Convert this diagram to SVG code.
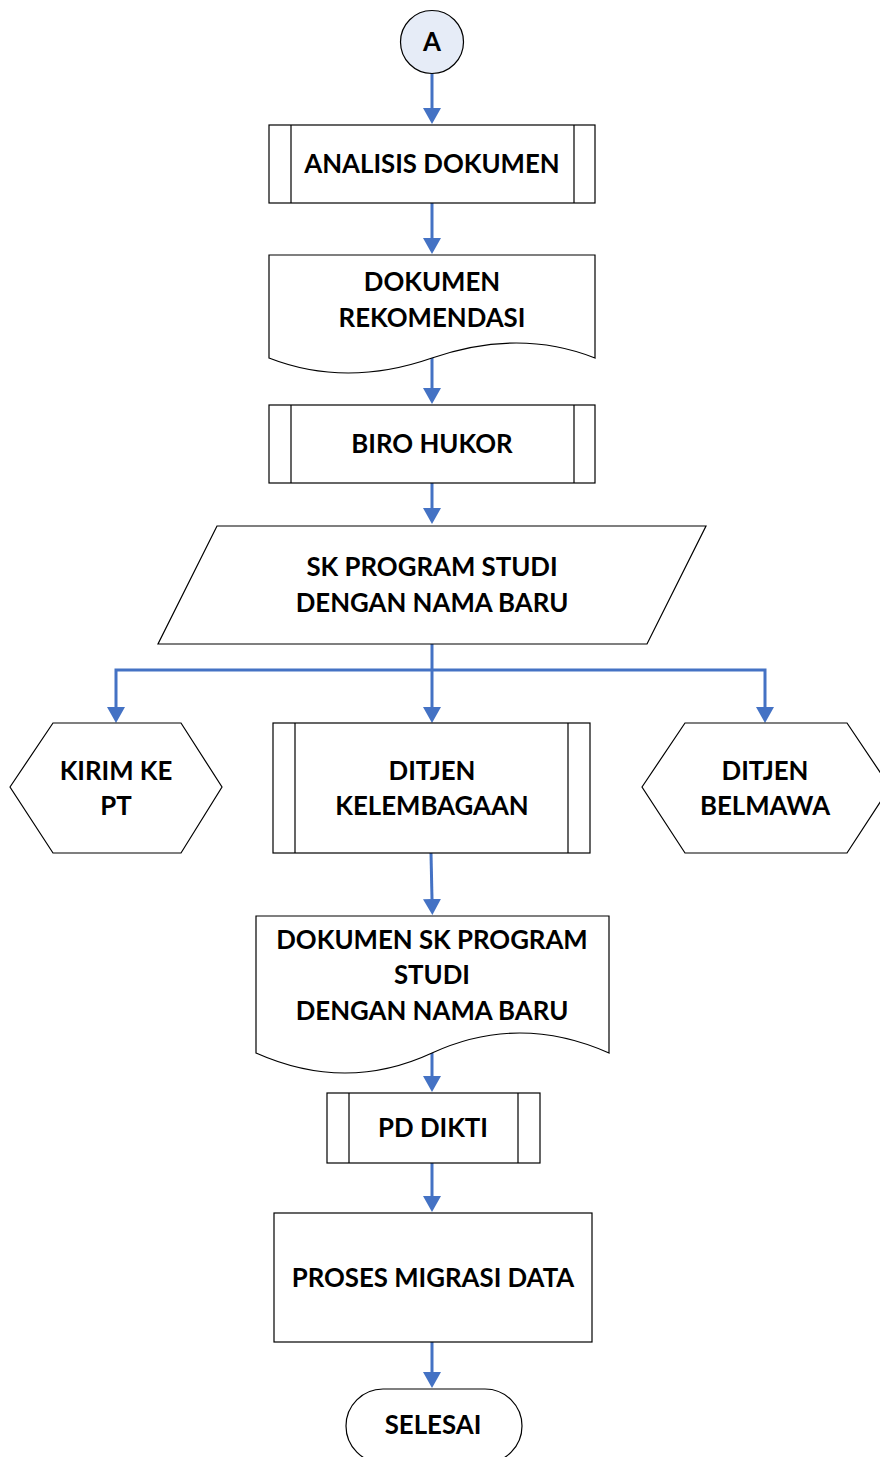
<svg xmlns="http://www.w3.org/2000/svg" width="880" height="1457" viewBox="0 0 880 1457">
<defs>
<style>
.s{fill:#fff;stroke:#000;stroke-width:1.2}
.t{font-family:Lato,"Liberation Sans",sans-serif;font-weight:bold;font-size:25.8px;fill:#000;text-anchor:middle}
.c{fill:none;stroke:#4472C4;stroke-width:3}
</style>
<marker id="ah" viewBox="0 0 16 18" refX="0" refY="9" markerWidth="16" markerHeight="18" markerUnits="userSpaceOnUse" orient="auto">
<path d="M0,0 L16,9 L0,18 z" fill="#4472C4"/>
</marker>
</defs>
<rect width="880" height="1457" fill="#fff"/>
<g id="connectors">
<path class="c" d="M432,73 V108" marker-end="url(#ah)"/>
<path class="c" d="M432,203 V238" marker-end="url(#ah)"/>
<path class="c" d="M432,358 V388" marker-end="url(#ah)"/>
<path class="c" d="M432,483 V508" marker-end="url(#ah)"/>
<path class="c" d="M432,644 V707" marker-end="url(#ah)"/>
<path class="c" d="M432,670 H116 V707" marker-end="url(#ah)"/>
<path class="c" d="M432,670 H765 V707" marker-end="url(#ah)"/>
<path class="c" d="M431,853 L432,899" marker-end="url(#ah)"/>
<path class="c" d="M432,1053 V1076" marker-end="url(#ah)"/>
<path class="c" d="M432,1163 V1196" marker-end="url(#ah)"/>
<path class="c" d="M432,1342 V1372" marker-end="url(#ah)"/>
</g>
<g id="start">
<circle cx="432" cy="42" r="31.5" fill="#E6ECF7" stroke="#000" stroke-width="1.2"/>
<text class="t" x="432" y="51">A</text>
</g>
<g id="analisis">
<rect class="s" x="269" y="125" width="326" height="78"/>
<path class="s" d="M291,125 V203 M574,125 V203"/>
<text class="t" x="432" y="173">ANALISIS DOKUMEN</text>
</g>
<g id="dok-rekomendasi">
<path class="s" d="M269,255 H595 V358 Q519,328 432,358 Q346,388 269,358 Z"/>
<text class="t" x="432" y="291">DOKUMEN</text>
<text class="t" x="432" y="327">REKOMENDASI</text>
</g>
<g id="biro">
<rect class="s" x="269" y="405" width="326" height="78"/>
<path class="s" d="M291,405 V483 M574,405 V483"/>
<text class="t" x="432" y="453">BIRO HUKOR</text>
</g>
<g id="sk">
<path class="s" d="M217,526 H706 L647,644 H158 Z"/>
<text class="t" x="432" y="576">SK PROGRAM STUDI</text>
<text class="t" x="432" y="612">DENGAN NAMA BARU</text>
</g>
<g id="kirim">
<path class="s" d="M10,787 L53,723 H181 L222,787 L181,853 H53 Z"/>
<text class="t" x="116" y="780">KIRIM KE</text>
<text class="t" x="116" y="815">PT</text>
</g>
<g id="kelembagaan">
<rect class="s" x="273" y="723" width="317" height="130"/>
<path class="s" d="M295,723 V853 M568,723 V853"/>
<text class="t" x="432" y="780">DITJEN</text>
<text class="t" x="432" y="815">KELEMBAGAAN</text>
</g>
<g id="belmawa">
<path class="s" d="M642,787 L685,723 H847 L890,787 L847,853 H685 Z"/>
<text class="t" x="765" y="780">DITJEN</text>
<text class="t" x="765" y="815">BELMAWA</text>
</g>
<g id="dok-sk">
<path class="s" d="M256,916 H609 V1053 Q519,1013 432,1053 Q346,1093 256,1053 Z"/>
<text class="t" x="432" y="949">DOKUMEN SK PROGRAM</text>
<text class="t" x="432" y="984">STUDI</text>
<text class="t" x="432" y="1020">DENGAN NAMA BARU</text>
</g>
<g id="pddikti">
<rect class="s" x="327" y="1093" width="213" height="70"/>
<path class="s" d="M349,1093 V1163 M518,1093 V1163"/>
<text class="t" x="433" y="1137">PD DIKTI</text>
</g>
<g id="migrasi">
<rect class="s" x="274" y="1213" width="318" height="129"/>
<text class="t" x="433" y="1287">PROSES MIGRASI DATA</text>
</g>
<g id="selesai">
<rect class="s" x="346" y="1389" width="176" height="74" rx="37"/>
<text class="t" x="433" y="1434">SELESAI</text>
</g>
</svg>
